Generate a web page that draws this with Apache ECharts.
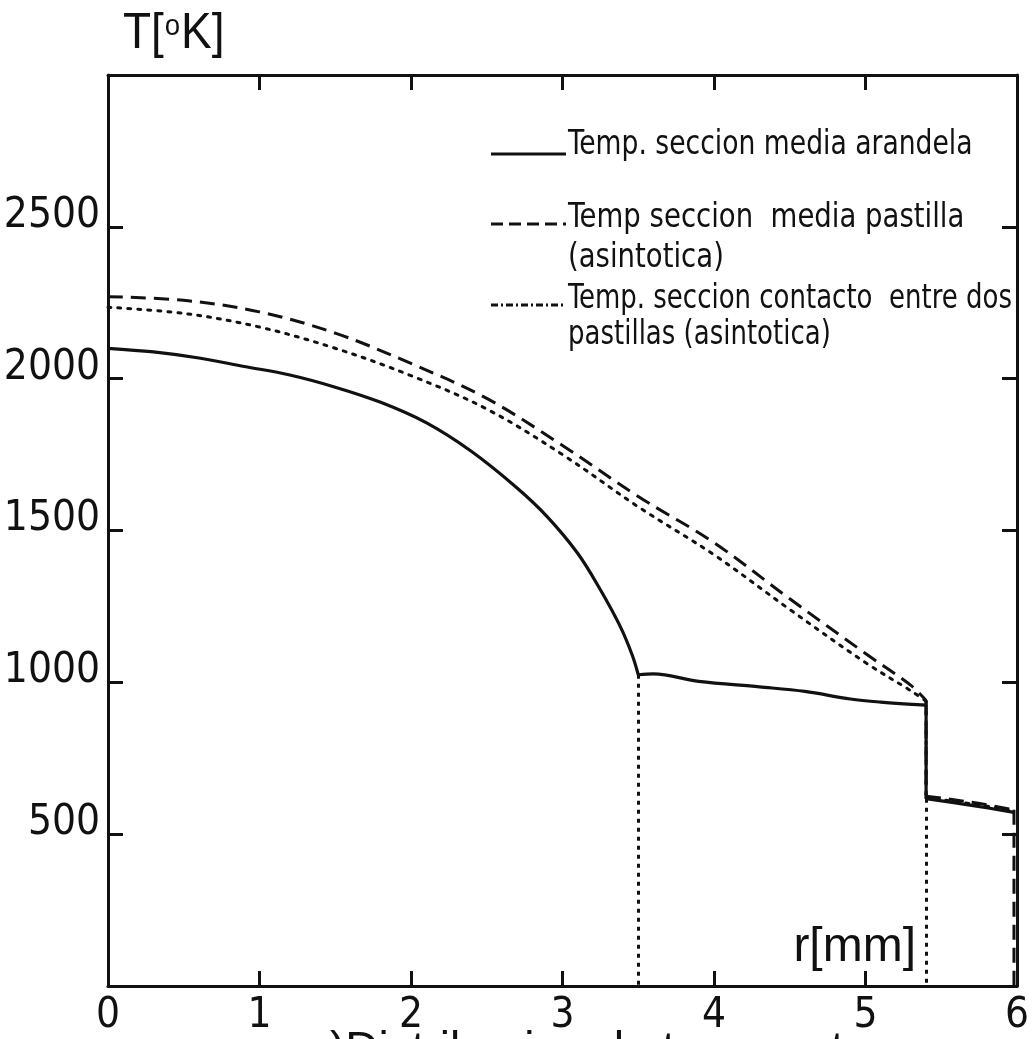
<!DOCTYPE html>
<html>
<head>
<meta charset="utf-8">
<title>Distribucion de temperaturas</title>
<script src="https://cdn.jsdelivr.net/npm/echarts@6/dist/echarts.min.js"></script>
<style>
  html, body { margin: 0; padding: 0; background: #fff; }
  #chart { width: 1032px; height: 1039px; }
</style>
</head>
<body>
<div id="chart"></div>
<script>
// Radial temperature profiles, r in mm, T in K
const arandelaR = [0, 0.3, 0.6, 0.9, 1.2, 1.5, 1.8, 2.1, 2.4, 2.7, 2.9, 3.1, 3.25, 3.38, 3.46, 3.5, 3.6, 3.9, 4.3, 4.6, 4.9, 5.1, 5.4, 5.4, 5.7, 5.98];
const arandelaT = [2100, 2088, 2068, 2040, 2012, 1972, 1922, 1855, 1760, 1640, 1545, 1425, 1305, 1185, 1090, 1025, 1028, 1003, 985, 970, 945, 935, 925, 617, 595, 572];
// indices where the profile has a corner or a jump
const arandelaBreaks = [15, 22, 23];

const pastillaR = [0, 0.5, 1.0, 1.5, 2.0, 2.5, 3.0, 3.5, 4.0, 4.5, 5.0, 5.3, 5.4, 5.4, 5.7, 5.98, 5.98];
const pastillaT = [2270, 2258, 2220, 2150, 2050, 1935, 1780, 1612, 1460, 1275, 1095, 990, 940, 625, 605, 580, 0];
const pastillaBreaks = [12, 13, 15];

const contactoR = [0, 0.5, 1.0, 1.5, 2.0, 2.5, 3.0, 3.5, 4.0, 4.5, 5.0, 5.3, 5.4, 5.4, 5.7, 5.97];
const contactoT = [2235, 2215, 2170, 2100, 2010, 1900, 1750, 1578, 1420, 1240, 1065, 972, 938, 620, 600, 578];
const contactoBreaks = [12, 13];

// interfaces between washer and pellet zones
const dividerR = [3.5, 5.4];
const dividerT = [1025, 617];

const xTicks = [0, 1, 2, 3, 4, 5, 6];
const yTicks = [500, 1000, 1500, 2000, 2500];

const seriesNames = [
  'Temp. seccion media arandela',
  'Temp seccion media pastilla (asintotica)',
  'Temp. seccion contacto entre dos pastillas (asintotica)'
];

// split a profile into pieces at the given indices (shared end points)
function pieces(xs, ys, breaks) {
  const cuts = [0].concat(breaks, [xs.length - 1]);
  const out = [];
  for (let k = 0; k < cuts.length - 1; k++) {
    const seg = [];
    for (let i = cuts[k]; i <= cuts[k + 1]; i++) seg.push([xs[i], ys[i]]);
    out.push(seg);
  }
  return out;
}

const NARROW = "'Liberation Sans Narrow', 'DejaVu Sans Condensed', sans-serif";
const REGULAR = "'Liberation Sans', 'DejaVu Sans', sans-serif";
const INK = '#111';

const tickFont = { color: INK, fontFamily: NARROW, fontSize: 42 };

const axisLine = { show: true, onZero: false, lineStyle: { color: INK, width: 3 } };
const axisTick = { show: true, inside: true, length: 15, lineStyle: { color: INK, width: 3 } };

function profileSeries(name, xs, ys, breaks, lineStyle, z) {
  return pieces(xs, ys, breaks).map(seg => ({
    name, type: 'line', data: seg, z,
    showSymbol: false, symbol: 'none',
    smooth: seg.length > 2 ? 0.35 : false,
    lineStyle: Object.assign({ color: INK }, lineStyle)
  }));
}

const series = []
  .concat(profileSeries(seriesNames[0], arandelaR, arandelaT, arandelaBreaks, { width: 3.2, type: 'solid' }, 5))
  .concat(profileSeries(seriesNames[1], pastillaR, pastillaT, pastillaBreaks, { width: 3, type: [15, 8] }, 4))
  .concat(profileSeries(seriesNames[2], contactoR, contactoT, contactoBreaks, { width: 3, type: [3, 7], cap: 'round' }, 3));

// dotted verticals at the zone interfaces
series[series.length - 1].markLine = {
  silent: true, symbol: 'none', label: { show: false },
  lineStyle: { color: INK, width: 3, type: [4, 5] },
  data: dividerR.map((r, i) => [{ coord: [r, dividerT[i]] }, { coord: [r, 0] }])
};

const chart = echarts.init(document.getElementById('chart'), null, { renderer: 'canvas' });

const option = {
  backgroundColor: '#fff',
  animation: false,
  grid: { left: 108, right: 15, top: 75, bottom: 53, containLabel: false, outerBoundsMode: 'none' },
  xAxis: [
    {
      type: 'value', position: 'bottom', min: 0, max: 6, interval: 1,
      axisLine, axisTick, splitLine: { show: false },
      axisLabel: Object.assign({ margin: 9, formatter: v => xTicks.includes(v) ? String(v) : '' }, tickFont)
    },
    {
      type: 'value', position: 'top', min: 0, max: 6, interval: 1,
      axisLine, axisTick, splitLine: { show: false }, axisLabel: { show: false }
    }
  ],
  yAxis: [
    {
      type: 'value', position: 'left', min: 0, max: 3000, interval: 500,
      axisLine, axisTick, splitLine: { show: false },
      axisLabel: Object.assign({
        margin: 8, verticalAlign: 'bottom', lineHeight: 22,
        formatter: v => yTicks.includes(v) ? String(v) : ''
      }, tickFont)
    },
    {
      type: 'value', position: 'right', min: 0, max: 3000, interval: 500,
      axisLine, axisTick, splitLine: { show: false }, axisLabel: { show: false }
    }
  ],
  series,
  graphic: [
    // axis titles
    {
      type: 'text', x: 123, y: 6, z: 10, scaleX: 0.92,
      style: {
        text: '{a|T[}{s|o}{a|K]}', fill: INK,
        rich: {
          a: { fontFamily: REGULAR, fontSize: 50, lineHeight: 56, fill: INK },
          s: { fontFamily: REGULAR, fontSize: 30, lineHeight: 56, verticalAlign: 'top', padding: [6, 1, 0, 1], fill: INK }
        }
      }
    },
    {
      type: 'text', x: 916, y: 972, z: 10,
      style: { text: 'r[mm]', fill: INK, font: '48px ' + REGULAR, align: 'right', verticalAlign: 'bottom', textAlign: 'right', textVerticalAlign: 'bottom' }
    },
    // legend samples
    { type: 'line', z: 10, shape: { x1: 491, y1: 154, x2: 566, y2: 154 }, style: { stroke: INK, lineWidth: 3 } },
    { type: 'line', z: 10, shape: { x1: 491, y1: 224, x2: 566, y2: 224 }, style: { stroke: INK, lineWidth: 3, lineDash: [12, 6] } },
    { type: 'line', z: 10, shape: { x1: 491, y1: 305, x2: 566, y2: 305 }, style: { stroke: INK, lineWidth: 3, lineDash: [7, 3, 2, 3] } },
    // legend labels
    {
      type: 'text', x: 568, y: 128, z: 10, scaleX: 0.87,
      style: { text: 'Temp. seccion media arandela', fill: INK, font: '34px ' + NARROW }
    },
    {
      type: 'text', x: 568, y: 198, z: 10, scaleX: 0.9,
      style: { text: 'Temp seccion  media pastilla\n(asintotica)', fill: INK, font: '34px ' + NARROW, lineHeight: 40 }
    },
    {
      type: 'text', x: 568, y: 281, z: 10, scaleX: 0.85,
      style: { text: 'Temp. seccion contacto  entre dos\npastillas (asintotica)', fill: INK, font: '34px ' + NARROW, lineHeight: 36 }
    },
    // caption below the figure
    {
      type: 'text', x: 330, y: 1028, z: 10,
      style: { text: ')Distribucion de temperaturas', fill: INK, font: '46px ' + REGULAR }
    }
  ]
};

chart.setOption(option);
</script>
</body>
</html>
